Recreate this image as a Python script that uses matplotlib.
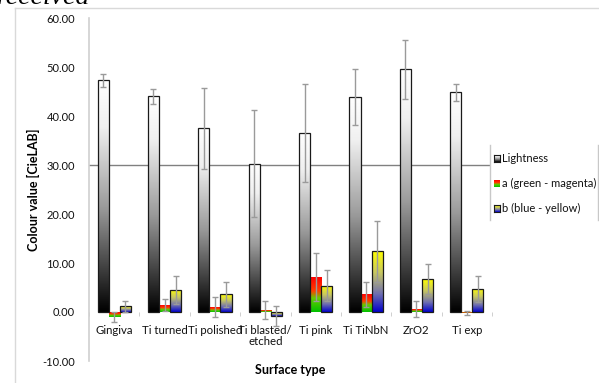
import numpy as np
import matplotlib
matplotlib.use('Agg')
import matplotlib.pyplot as plt
from matplotlib.colors import LinearSegmentedColormap
from matplotlib.lines import Line2D
from matplotlib.patches import Rectangle

plt.rcParams['font.family'] = ['Lato', 'DejaVu Sans']

# data
surfaces = ['Gingiva', 'Ti turned', 'Ti polished', 'Ti blasted/\netched',
            'Ti pink', 'Ti TiNbN', 'ZrO2', 'Ti exp']
lightness = [47.3, 44.0, 37.5, 30.3, 36.5, 43.8, 49.5, 44.8]
lightness_err = [1.3, 1.6, 8.3, 11.0, 10.0, 5.7, 6.1, 1.7]
a_vals = [-1.0, 1.4, 1.0, 0.4, 7.1, 3.6, 0.6, -0.2]
a_err = [1.0, 1.2, 2.0, 1.8, 4.9, 2.5, 1.6, 0.4]
b_vals = [1.2, 4.5, 3.6, -0.8, 5.4, 12.4, 6.7, 4.7]
b_err = [1.1, 2.9, 2.5, 2.1, 3.2, 6.2, 3.1, 2.6]
series_names = ['Lightness', 'a (green - magenta)', 'b (blue - yellow)']

# gradients (bottom -> top)
cm_L = LinearSegmentedColormap.from_list('L', [(0, '#000000'), (0.45, '#9a9a9a'), (0.8, '#f0f0f0'), (1, '#ffffff')])
cm_a = LinearSegmentedColormap.from_list('a', [(0, '#00c000'), (0.4, '#66cc00'), (0.6, '#ff4000'), (1, '#ff0000')])
cm_b = LinearSegmentedColormap.from_list('b', [(0, '#0000cc'), (0.3, '#7070b0'), (0.65, '#c8c860'), (1, '#ffff00')])

W, H = 599, 383
fig = plt.figure(figsize=(W / 100, H / 100), dpi=100)
ax = fig.add_axes([89 / W, 1 - 361 / H, (492 - 89) / W, (361 - 18) / H])

# axis spines first (moving a spine resets the ticks)
for s in ['top', 'right']:
    ax.spines[s].set_visible(False)
ax.spines['bottom'].set_position(('data', 0))
ax.spines['bottom'].set_visible(False)
ax.spines['left'].set_color('#d0d0d0')
ax.spines['left'].set_linewidth(1.2)

x = np.arange(len(surfaces))
bw = 0.22


def gradient_fill(bars, cmap):
    grad = np.linspace(0, 1, 256).reshape(-1, 1)
    for b in bars:
        x0, y0, w, h = b.get_x(), b.get_y(), b.get_width(), b.get_height()
        lo, hi = min(y0, y0 + h), max(y0, y0 + h)
        if hi - lo <= 0:
            continue
        im = ax.imshow(grad, cmap=cmap, origin='lower', aspect='auto',
                       extent=[x0, x0 + w, lo, hi], zorder=2, interpolation='bilinear')
        im.set_clip_path(b)


ax.axhline(30, color='#808080', lw=1, zorder=1)

bars_L = ax.bar(x - bw, lightness, bw, facecolor='none', edgecolor='#1a1a1a', lw=0.9, zorder=3)
bars_a = ax.bar(x, a_vals, bw, facecolor='none', edgecolor='none', lw=0, zorder=3)
bars_b = ax.bar(x + bw, b_vals, bw, facecolor='none', edgecolor='#1a1a1a', lw=0.9, zorder=3)
gradient_fill(bars_L, cm_L)
gradient_fill(bars_a, cm_a)
gradient_fill(bars_b, cm_b)

for off, vals, errs in [(-bw, lightness, lightness_err), (0, a_vals, a_err), (bw, b_vals, b_err)]:
    eb = ax.errorbar(x + off, vals, yerr=errs, fmt='none', ecolor='#9a9a9a',
                     elinewidth=1, capsize=2, capthick=1, zorder=4)
    for cap in eb[1]:
        cap.set_color('black')

ax.set_xlim(-0.5, 7.5)
ax.set_ylim(-10, 60)
ax.set_yticks(np.arange(-10, 61, 10))
ax.set_yticklabels([f'{v:.2f}' for v in np.arange(-10, 61, 10)])
ax.tick_params(axis='y', length=0, pad=10, labelsize=8, labelcolor='#111111')

ax.set_xticks(x)
ax.set_xticklabels(surfaces, linespacing=1.1)
ax.set_xticks(np.arange(-0.5, 8, 1), minor=True)
ax.tick_params(axis='x', which='major', length=0, pad=9, labelsize=8.2, labelcolor='#111111')
ax.tick_params(axis='x', which='minor', length=3, color='#c8c8c8', direction='out')

ax.set_ylabel('Colour value [CieLAB]', fontsize=9, fontweight='bold')
ax.yaxis.set_label_coords((40 - 89) / 403, 0.5)
ax.set_xlabel('Surface type', fontsize=9, fontweight='bold')
ax.xaxis.set_label_coords(0.5, -0.01)

# outer chart frame
fig.add_artist(Line2D([15 / W, 15 / W], [0, 1 - 8 / H], color='#d9d9d9', lw=1))
fig.add_artist(Line2D([15 / W, 1], [1 - 8 / H, 1 - 8 / H], color='#d9d9d9', lw=1))

# cut-off text of the page above
fig.text(-3 / W, 1 - 3.5 / H, 'received', fontsize=20, style='italic',
         family='Liberation Serif', va='baseline', ha='left')

# legend
fig.add_artist(Rectangle((490 / W, 1 - 220 / H), 108 / W, 75 / H, facecolor='white', edgecolor='none'))
fig.add_artist(Line2D([490 / W, 490 / W], [1 - 145 / H, 1 - 220 / H], color='#c8c8c8', lw=1))
fig.add_artist(Line2D([598 / W, 598 / W], [1 - 145 / H, 1 - 220 / H], color='#c8c8c8', lw=1))
for name, cmap, ypix in zip(series_names, [cm_L, cm_a, cm_b], [158, 183, 208]):
    mk = fig.add_axes([494 / W, 1 - (ypix + 3.5) / H, 6 / W, 7 / H])
    mk.set_zorder(5)
    mk.imshow(np.linspace(0, 1, 64).reshape(-1, 1), cmap=cmap, origin='lower', aspect='auto')
    mk.set_xticks([])
    mk.set_yticks([])
    edge = '#1a1a1a' if name != series_names[1] else 'none'
    for s in mk.spines.values():
        s.set_color(edge)
        s.set_linewidth(0.8)
    fig.text(502 / W, 1 - ypix / H, name, fontsize=8, va='center', ha='left', color='#111111')

fig.savefig('out.png', dpi=100)
